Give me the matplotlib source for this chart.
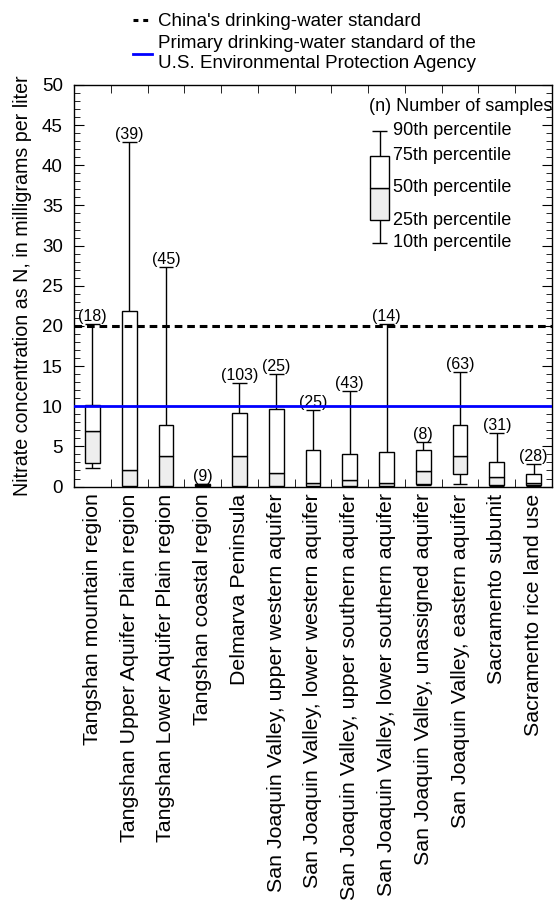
import matplotlib
matplotlib.use('Agg')
import matplotlib.pyplot as plt
import numpy as np
from matplotlib.lines import Line2D

plt.rcParams['font.family'] = ['Liberation Sans', 'DejaVu Sans']

# sites and box statistics (mg/L nitrate as N)
sites = ['Tangshan mountain region', 'Tangshan Upper Aquifer Plain region',
         'Tangshan Lower Aquifer Plain region', 'Tangshan coastal region',
         'Delmarva Peninsula', 'San Joaquin Valley, upper western aquifer',
         'San Joaquin Valley, lower western aquifer',
         'San Joaquin Valley, upper southern aquifer',
         'San Joaquin Valley, lower southern aquifer',
         'San Joaquin Valley, unassigned aquifer',
         'San Joaquin Valley, eastern aquifer', 'Sacramento subunit',
         'Sacramento rice land use']
n_samples = [18, 39, 45, 9, 103, 25, 25, 43, 14, 8, 63, 31, 28]
p10 = [2.3, 0.0, 0.0, 0.0, 0.0, 0.0, 0.0, 0.0, 0.0, 0.2, 0.3, 0.1, 0.1]
p25 = [2.9, 0.05, 0.1, 0.05, 0.05, 0.05, 0.05, 0.05, 0.1, 0.3, 1.6, 0.2, 0.15]
p50 = [6.9, 2.1, 3.8, 0.15, 3.8, 1.7, 0.4, 0.8, 0.5, 1.9, 3.8, 1.2, 0.5]
p75 = [10.2, 21.8, 7.7, 0.3, 9.2, 9.6, 4.6, 4.0, 4.3, 4.6, 7.7, 3.1, 1.6]
p90 = [20.2, 42.9, 27.3, 0.3, 12.9, 14.0, 9.5, 11.9, 20.2, 5.6, 14.3, 6.7, 2.8]

china_std = 20
epa_std = 10

x = np.arange(1, len(sites) + 1)
w = 0.4

fig = plt.figure(figsize=(5.57, 9.02), dpi=100)
ax = fig.add_axes([0.1329, 0.4606, 0.858, 0.4452])

# whiskers + caps
ax.vlines(x, p10, p25, color='black', lw=1.0, zorder=2)
ax.vlines(x, p75, p90, color='black', lw=1.0, zorder=2)
ax.hlines(p10, x - w / 2, x + w / 2, color='black', lw=1.0, zorder=2)
ax.hlines(p90, x - w / 2, x + w / 2, color='black', lw=1.0, zorder=2)

# boxes: lower half grey, upper half white
lo = np.array(p50) - np.array(p25)
hi = np.array(p75) - np.array(p50)
ax.bar(x, lo, w, bottom=p25, color='#eeeeee', edgecolor='black', lw=1.0, zorder=3)
ax.bar(x, hi, w, bottom=p50, color='white', edgecolor='black', lw=1.0, zorder=3)

for xi, top, n in zip(x, p90, n_samples):
    ax.annotate('(%d)' % n, (xi, top), xytext=(0, 0), textcoords='offset points',
                ha='center', va='bottom', fontsize=11.5)

china_line = ax.axhline(china_std, color='black', lw=2.2, dashes=(2.5, 1.6), zorder=4)
epa_line = ax.axhline(epa_std, color='#0000ff', lw=2.0, zorder=4)

ax.set_xlim(0.5, len(sites) + 0.5)
ax.set_ylim(0, 50)
ax.set_xticks(x)
ax.set_xticklabels(sites, rotation=90, fontsize=15.4)
ax.set_xticks(x[:-1] + 0.5, minor=True)
ax.tick_params(axis='x', which='major', length=0, pad=5)
ax.tick_params(axis='x', which='minor', direction='in', length=6, top=True, bottom=True)
ax.set_yticks(np.arange(0, 51, 5))
ax.set_yticks(np.arange(0, 51, 1), minor=True)
ax.tick_params(axis='y', which='major', direction='in', length=7, right=True, labelsize=13.5, pad=8)
ax.tick_params(axis='y', which='minor', direction='in', length=4, right=True)
ax.set_ylabel('Nitrate concentration as N, in milligrams per liter', fontsize=14.1)
ax.yaxis.set_label_coords(-0.088, 0.5)
for s in ax.spines.values():
    s.set_linewidth(1.0)

# explanation key
kax = fig.add_axes([0.6643, 0.7306, 0.0341, 0.1242])
kax.set_xlim(0, 1)
kax.set_ylim(0, 1)
kax.axis('off')
key_y = [0.0, 0.205, 0.491, 0.777, 1.0]
key_txt = ['10th percentile', '25th percentile', '50th percentile',
           '75th percentile', '90th percentile']
kax.vlines(0.5, key_y[0], key_y[1], color='black', lw=1.0, clip_on=False)
kax.vlines(0.5, key_y[3], key_y[4], color='black', lw=1.0, clip_on=False)
kax.hlines([key_y[0], key_y[4]], 0.08, 0.92, color='black', lw=1.0, clip_on=False)
kax.bar(0.5, key_y[2] - key_y[1], 1.0, bottom=key_y[1], color='#eeeeee',
        edgecolor='black', lw=1.0, clip_on=False)
kax.bar(0.5, key_y[3] - key_y[2], 1.0, bottom=key_y[2], color='white',
        edgecolor='black', lw=1.0, clip_on=False)
for ky, kt in zip(key_y, key_txt):
    kax.text(1.21, ky, kt, va='center', ha='left', fontsize=13, clip_on=False)
kax.text(-0.05, 1.216, '(n) Number of samples', va='center', ha='left', fontsize=13, clip_on=False)

leg = fig.legend([Line2D([], [], color='black', lw=2.2, dashes=(1.6, 1.6)),
                  Line2D([], [], color='#0000ff', lw=2.0)],
                 ["China's drinking-water standard",
                  'Primary drinking-water standard of the\nU.S. Environmental Protection Agency'],
                 loc='upper left', bbox_to_anchor=(133 / 557, 1 - 13 / 902), frameon=False,
                 fontsize=13.5, handlelength=1.0, handletextpad=0.32, labelspacing=0.28,
                 borderpad=0, borderaxespad=0)
leg.get_texts()[1].set_linespacing(1.2)

fig.savefig('out.png', dpi=100)
